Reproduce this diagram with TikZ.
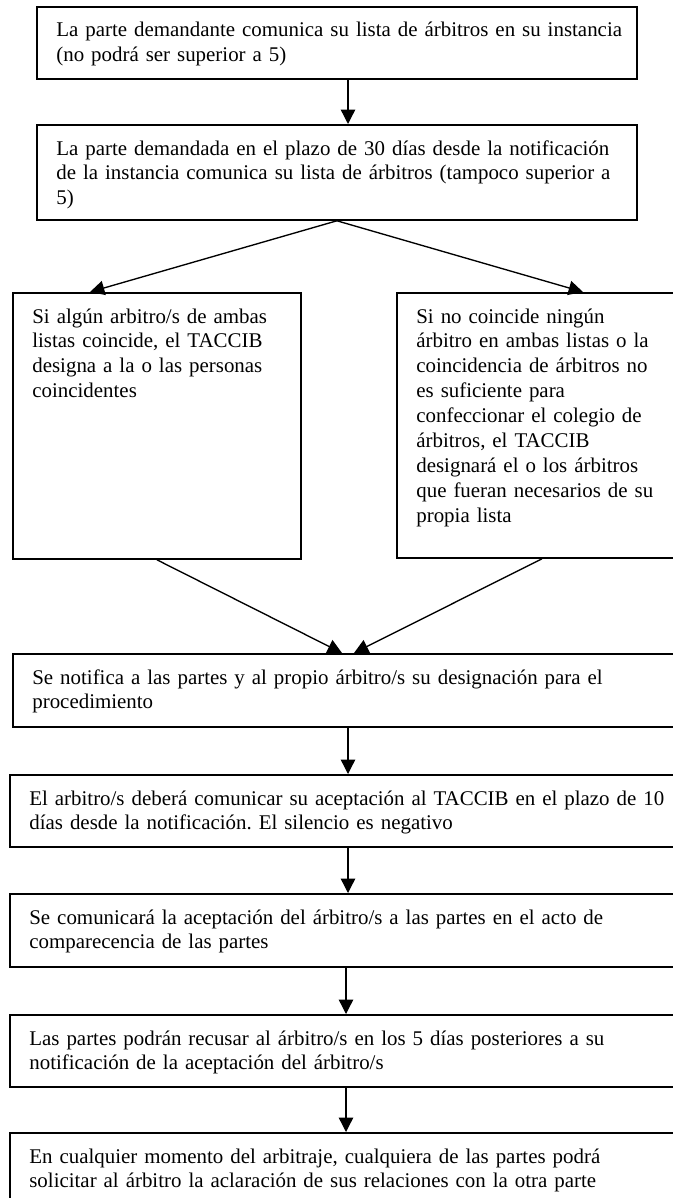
\documentclass[tikz,border=0pt]{standalone}
\usepackage{fontspec}
\setmainfont{Liberation Serif}
\usetikzlibrary{arrows.meta}
\newcommand\pxu{0.557pt}
\tikzset{
  box/.style={draw, line width=1pt, inner sep=0pt, anchor=north west},
  txt/.style={anchor=base west, inner sep=0pt, align=left, text width=700*\pxu,
    font={\fontsize{11.65pt}{13.9pt}\selectfont\frenchspacing}},
  arr/.style={line width=0.75pt, -{Triangle[length=8pt,width=8pt]}},
}
\begin{document}
\begin{tikzpicture}[x=0.557pt, y=-0.557pt]
\useasboundingbox[fill=white] (0,0) rectangle (672,1198);
% boxes
\node[box, minimum width=600*\pxu, minimum height=72*\pxu] (b1) at (36,6) {};
\node[box, minimum width=600*\pxu, minimum height=95*\pxu] (b2) at (36,124) {};
\node[box, minimum width=288*\pxu, minimum height=266*\pxu] (b3) at (12,292) {};
\node[box, minimum width=290*\pxu, minimum height=265*\pxu] (b4) at (396,292) {};
\node[box, minimum width=672*\pxu, minimum height=73*\pxu] (b5) at (12,653) {};
\node[box, minimum width=678*\pxu, minimum height=72*\pxu] (b6) at (9,774) {};
\node[box, minimum width=674*\pxu, minimum height=73*\pxu] (b7) at (9,893) {};
\node[box, minimum width=674*\pxu, minimum height=72*\pxu] (b8) at (9,1014) {};
\node[box, minimum width=674*\pxu, minimum height=120*\pxu] (b9) at (9,1132) {};
% texts
\node[txt] (t1) at (56,37) {La parte demandante comunica su lista de árbitros en su instancia\\(no podrá ser superior a 5)};
\node[txt] (t2) at (56,155) {La parte demandada en el plazo de 30 días desde la notificación\\de la instancia comunica su lista de árbitros (tampoco superior a\\5)};
\node[txt] (t3) at (32,323) {Si algún arbitro/s de ambas\\listas coincide, el TACCIB\\designa a la o las personas\\coincidentes};
\node[txt] (t4) at (416,323) {Si no coincide ningún\\árbitro en ambas listas o la\\coincidencia de árbitros no\\es suficiente para\\confeccionar el colegio de\\árbitros, el TACCIB\\designará el o los árbitros\\que fueran necesarios de su\\propia lista};
\node[txt] (t5) at (32,684) {Se notifica a las partes y al propio árbitro/s su designación para el\\procedimiento};
\node[txt] (t6) at (29,805) {El arbitro/s deberá comunicar su aceptación al TACCIB en el plazo de 10\\días desde la notificación. El silencio es negativo};
\node[txt] (t7) at (29,924) {Se comunicará la aceptación del árbitro/s a las partes en el acto de\\comparecencia de las partes};
\node[txt] (t8) at (29,1045) {Las partes podrán recusar al árbitro/s en los 5 días posteriores a su\\notificación de la aceptación del árbitro/s};
\node[txt] (t9) at (29,1163) {En cualquier momento del arbitraje, cualquiera de las partes podrá\\solicitar al árbitro la aclaración de sus relaciones con la otra parte};
% connector end points
\coordinate (f3) at (90,292);
\coordinate (f4) at (583,292);
\coordinate (m3) at (342,653);
\coordinate (m4) at (354,653);
% connectors
\draw[arr] (b1.south -| 348,0) -- (b2.north -| 348,0);
\draw[arr] (b2.south) -- (f3);
\draw[arr] (b2.south) -- (f4);
\draw[arr] (b3.south) -- (m3);
\draw[arr] (b4.south) -- (m4);
\draw[arr] (b5.south -| 348,0) -- (b6.north -| 348,0);
\draw[arr] (b6.south -| 348,0) -- (b7.north -| 348,0);
\draw[arr] (b7.south -| 346,0) -- (b8.north -| 346,0);
\draw[arr] (b8.south -| 346,0) -- (b9.north -| 346,0);
\end{tikzpicture}
\end{document}
